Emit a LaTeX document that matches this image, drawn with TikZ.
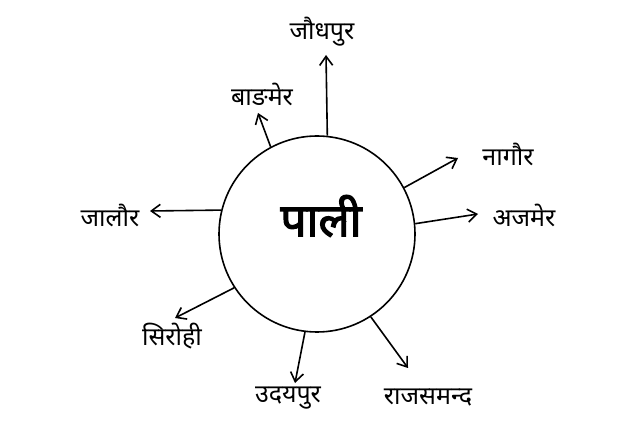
\documentclass[tikz,border=0pt]{standalone}
\usepackage{fontspec}
\newfontfamily\deva[Script=Devanagari]{Noto Sans}
\newfontfamily\devabold[Script=Devanagari,FakeBold=2.5]{Noto Sans}
\usetikzlibrary{arrows.meta}
\begin{document}
\begin{tikzpicture}[x=1pt,y=-1pt,
  lbl/.style={font=\deva\fontsize{25}{29}\selectfont, inner sep=1pt},
  arr/.style={line width=1.6pt, -{Straight Barb[length=9pt,width=13pt,line width=1.6pt]}}]
\useasboundingbox (0,0) rectangle (624,430);
\node[circle, draw, line width=1.6pt, minimum size=196pt, inner sep=0pt] (c) at (317,234) {};
\node[font=\devabold\fontsize{46}{52}\selectfont] (pali) at (321,216) {पाली};
\node[lbl] (jodh) at (322,32) {जौधपुर};
\node[lbl] (badm) at (262,94) {बाङमेर};
\node[lbl] (naga) at (508,154) {नागौर};
\node[lbl] (ajme) at (524,215) {अजमेर};
\node[lbl] (jalo) at (110,215) {जालौर};
\node[lbl] (siro) at (172,336) {सिरोही};
\node[lbl] (udai) at (288,398) {उदयपुर};
\node[lbl] (raja) at (428,398) {राजसमन्द};
\coordinate (ejodh) at (326,55);
\coordinate (ebadm) at (258,113);
\coordinate (enaga) at (458,158);
\coordinate (eajme) at (478,214);
\coordinate (ejalo) at (150,211);
\coordinate (esiro) at (175,318);
\coordinate (eudai) at (295,383);
\coordinate (eraja) at (408,368);
\draw[arr] (c.84.7) -- (ejodh);
\draw[arr] (c.118.7) -- (ebadm);
\draw[arr] (c.28.3) -- (enaga);
\draw[arr] (c.6) -- (eajme);
\draw[arr] (c.166.7) -- (ejalo);
\draw[arr] (c.213) -- (esiro);
\draw[arr] (c.263) -- (eudai);
\draw[arr] (c.303.7) -- (eraja);
\end{tikzpicture}
\end{document}
